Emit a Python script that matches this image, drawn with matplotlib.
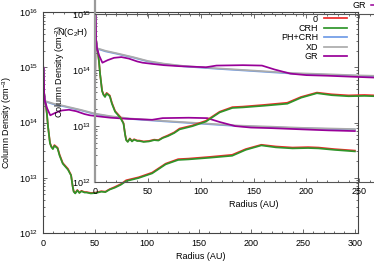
import numpy as np
import matplotlib
matplotlib.use('Agg')
import matplotlib.pyplot as plt
from matplotlib.ticker import LogLocator, MultipleLocator, FixedLocator, NullFormatter, FuncFormatter
from matplotlib.lines import Line2D

plt.rcParams['font.family'] = ['Liberation Sans', 'DejaVu Sans']
plt.rcParams['mathtext.fontset'] = 'custom'
plt.rcParams['mathtext.rm'] = 'Liberation Sans'
plt.rcParams['mathtext.it'] = 'Liberation Sans:italic'
plt.rcParams['mathtext.default'] = 'regular'
plt.rcParams['font.size'] = 6.5

# radius (AU) and column densities
r_cr = [0, 0.4, 1, 2, 3, 3.8, 4.8, 6.7, 8, 9.5, 11, 14, 16, 19, 24, 27, 28.5, 29.5,
        31, 33, 35, 37, 40, 42, 46, 51, 56, 60, 64, 69, 75, 80, 92, 105, 118, 130,
        140, 160, 182, 195, 210, 224, 240, 255, 265, 280, 300]
n_cr = [1.6e13, 1.0e15, 3.5e14, 2.4e14, 1.9e14, 1.4e14, 8.5e13, 4.2e13, 3.6e13, 3.3e13,
        3.8e13, 3.4e13, 2.5e13, 1.8e13, 1.4e13, 1.1e13, 7.0e12, 5.6e12, 5.2e12, 5.9e12,
        5.3e12, 5.7e12, 5.4e12, 5.4e12, 5.2e12, 5.3e12, 5.6e12, 5.5e12, 6.1e12, 6.6e12,
        7.5e12, 8.7e12, 9.9e12, 1.2e13, 1.75e13, 2.1e13, 2.15e13, 2.3e13, 2.5e13, 3.2e13,
        3.85e13, 3.55e13, 3.4e13, 3.45e13, 3.4e13, 3.2e13, 3.0e13]
n_0 = [1.6e13, 1.0e15, 3.5e14, 2.4e14, 1.9e14, 1.4e14, 8.6e13, 4.3e13, 3.7e13, 3.4e13,
       3.9e13, 3.5e13, 2.6e13, 1.85e13, 1.45e13, 1.12e13, 7.1e12, 5.7e12, 5.3e12, 6.0e12,
       5.4e12, 5.8e12, 5.5e12, 5.5e12, 5.3e12, 5.4e12, 5.7e12, 5.6e12, 6.2e12, 6.8e12,
       7.7e12, 9.0e12, 1.02e13, 1.24e13, 1.8e13, 2.17e13, 2.22e13, 2.38e13, 2.6e13, 3.3e13,
       3.95e13, 3.68e13, 3.52e13, 3.58e13, 3.52e13, 3.3e13, 3.1e13]

r_xd = [0, 0.4, 1, 2, 10, 20, 36, 50, 65, 84, 116, 160, 188, 220, 250, 300]
n_xd = [1.6e13, 1.0e15, 3.5e14, 2.45e14, 2.2e14, 2.0e14, 1.7e14, 1.45e14, 1.3e14,
        1.18e14, 1.07e14, 9.5e13, 8.8e13, 8.4e13, 8.0e13, 7.6e13]
n_ph = [1.6e13, 1.0e15, 3.4e14, 2.4e14, 2.15e14, 1.96e14, 1.67e14, 1.42e14, 1.28e14,
        1.16e14, 1.05e14, 9.3e13, 8.6e13, 8.2e13, 7.85e13, 7.45e13]

r_gr = [0, 0.4, 1, 2, 4, 7, 12, 18, 25, 32, 40, 45, 55, 65, 80, 95, 105, 115, 140,
        158, 170, 185, 200, 220, 250, 275, 300]
n_gr = [1.6e13, 1.0e15, 3.5e14, 2.4e14, 1.8e14, 1.35e14, 1.5e14, 1.65e14, 1.7e14,
        1.6e14, 1.42e14, 1.35e14, 1.28e14, 1.22e14, 1.17e14, 1.14e14, 1.12e14, 1.2e14,
        1.22e14, 1.2e14, 1.02e14, 8.6e13, 8.1e13, 7.9e13, 7.5e13, 7.2e13, 7.0e13]

models = ['0', 'CRH', 'PH+CRH', 'XD', 'GR']
colors = ['#ee2a2a', '#2f952a', '#6f9be6', '#ababab', '#980098']
series = [(r_cr, n_0), (r_cr, n_cr), (r_xd, n_ph), (r_xd, n_xd), (r_gr, n_gr)]

W, H = 374, 262
fig = plt.figure(figsize=(W / 100, H / 100), dpi=100)

def px_axes(l, t, r, b):
    return fig.add_axes([l / W, 1 - b / H, (r - l) / W, (b - t) / H])

def sci(v, pos):
    return '10$^{%d}$' % round(np.log10(v))

def style(ax, spine_col):
    ax.set_yscale('log')
    ax.xaxis.set_major_locator(MultipleLocator(50))
    ax.xaxis.set_minor_locator(MultipleLocator(10))
    ax.yaxis.set_major_locator(LogLocator(base=10))
    ax.yaxis.set_minor_locator(LogLocator(base=10, subs=range(2, 10)))
    ax.yaxis.set_major_formatter(FuncFormatter(sci))
    ax.yaxis.set_minor_formatter(NullFormatter())
    ax.tick_params(which='both', direction='in', top=True, right=True,
                   color='#555555', width=0.6)
    ax.tick_params(which='major', length=3.2)
    ax.tick_params(which='minor', length=1.6)
    ax.tick_params(axis='y', pad=3.5)
    ax.tick_params(axis='x', pad=4.3)
    for s in ax.spines.values():
        s.set_color(spine_col)
        s.set_linewidth(0.8)

# outer plot
ax = px_axes(43, 12, 358, 233)
for (r, n), c, m in zip(series, colors, models):
    ax.plot(r, n, color=c, lw=1.25, label=m)
ax.set_xlim(0, 303)
ax.set_ylim(1e12, 1e16)
style(ax, '#444444')
ax.set_xlabel('Radius (AU)')
ax.xaxis.set_label_coords(0.5, -0.088)
ax.set_ylabel('Column Density (cm$^{-3}$)')
ax.yaxis.set_label_coords(-0.092, 0.5)
ax.legend(loc='upper right', bbox_to_anchor=(347 / W, 1 - 14.5 / H),
          bbox_transform=fig.transFigure, frameon=False, markerfirst=False,
          handlelength=2.6, handletextpad=0.6, labelspacing=0.05,
          borderpad=0, borderaxespad=0, fontsize=6.5)

# inset, drawn on top with a see-through background
ax2 = px_axes(95, 14, 412, 182)
ax2.patch.set_visible(False)
for (r, n), c, m in zip(series, colors, models):
    ax2.plot(r, n, color=c, lw=1.25)
ax2.set_xlim(0, 300)
ax2.set_ylim(1e12, 1e15)
style(ax2, '#555555')
ax2.xaxis.set_major_locator(FixedLocator([0, 50, 100, 150, 200, 250]))
ax2.tick_params(axis='y', pad=3)
ax2.tick_params(axis='x', pad=3.8)
ax2.spines['left'].set_color('#9a9a9a')
ax2.spines['left'].set_linewidth(1.6)
ax2.spines['left'].set_bounds(1e12, 1.8e15)
ax2.set_xlabel('Radius (AU)')
ax2.xaxis.set_label_coords(0.5, -0.11)
ax2.set_ylabel('Column Density (cm$^{-2}$)')
ax2.yaxis.set_label_coords(-0.088, 0.66)

fig.text(72 / W, 1 - 33 / H, 'N(C$_2$H)', ha='center', va='center')

# the inset key lies mostly outside the picture; only its last row shows
fig.text(366 / W, 1 - 5 / H, 'GR', ha='right', va='center')
fig.add_artist(Line2D([371 / W, 390 / W], [1 - 5 / H, 1 - 5 / H],
                      transform=fig.transFigure, color=colors[-1], lw=1.1))

fig.savefig('out.png', dpi=100)
